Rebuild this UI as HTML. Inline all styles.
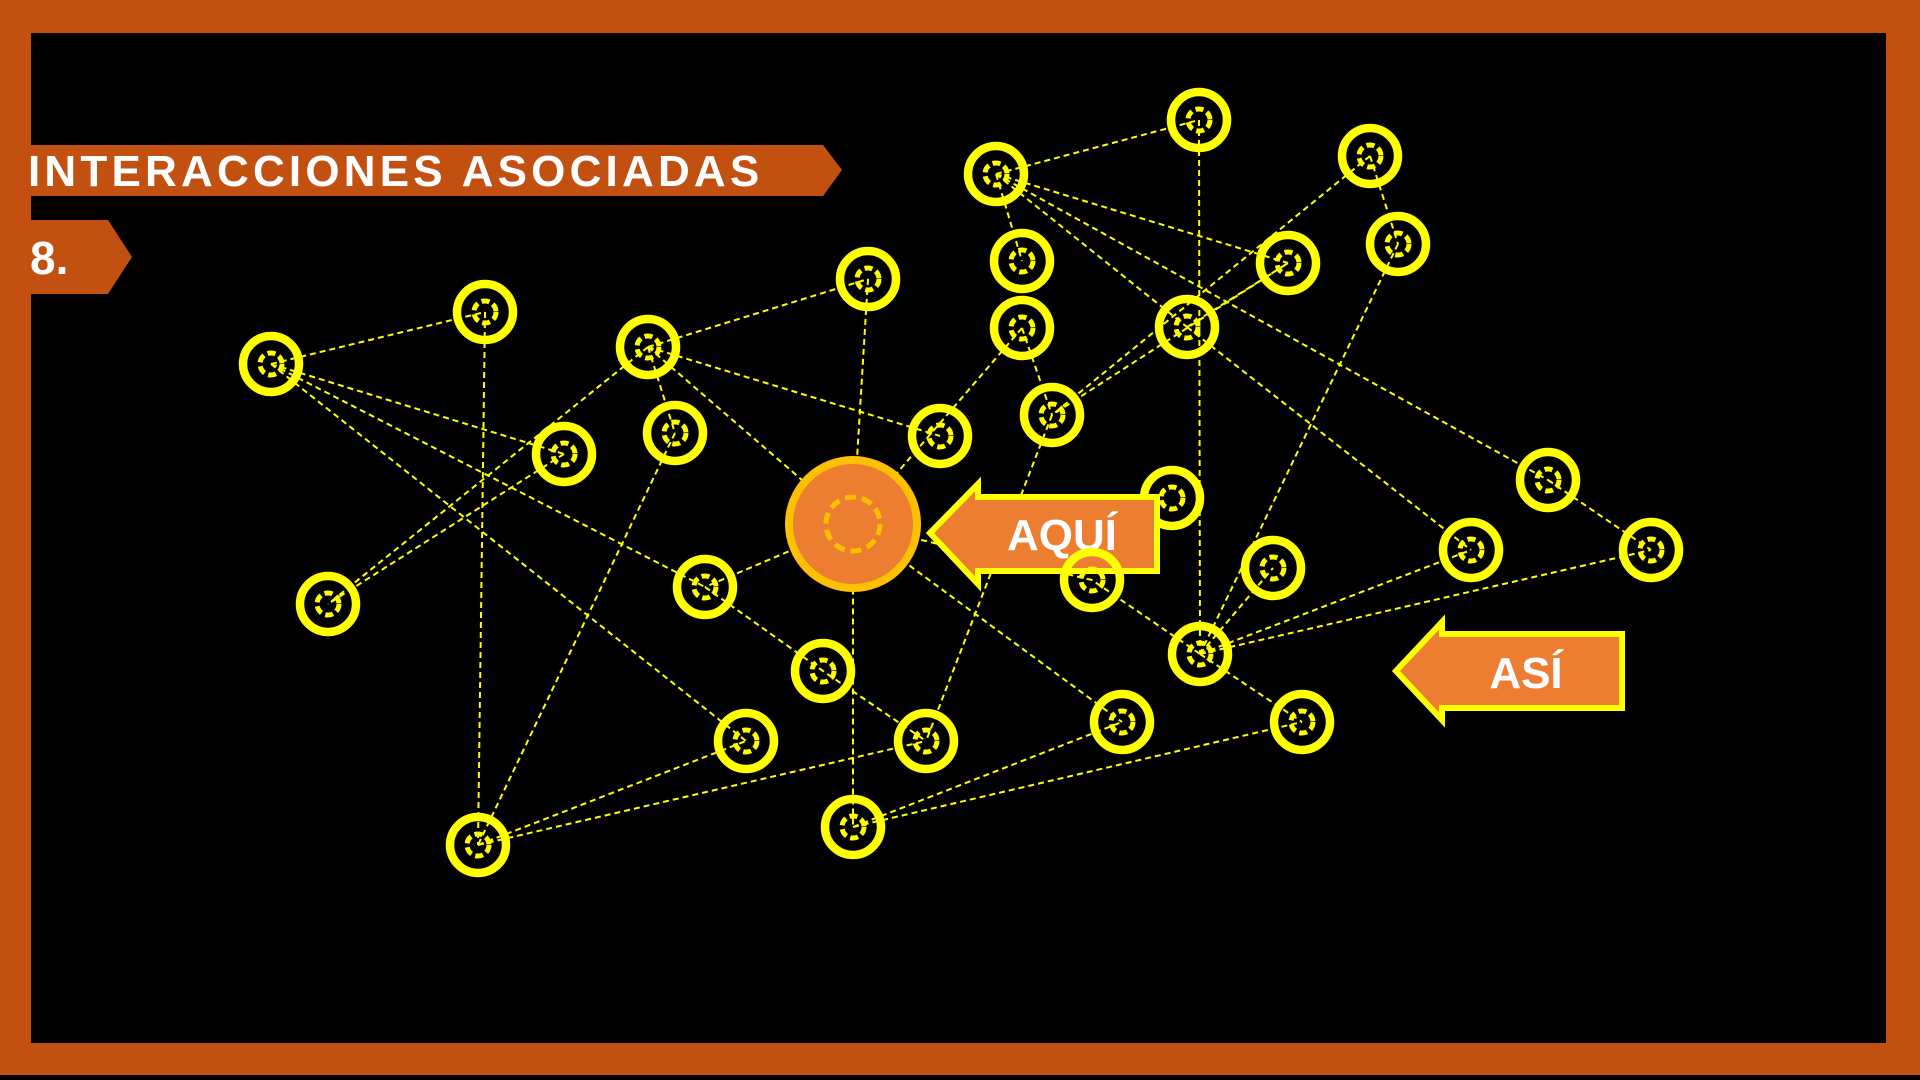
<!DOCTYPE html>
<html><head><meta charset="utf-8"><style>
html,body{margin:0;padding:0;background:#000;width:1920px;height:1080px;overflow:hidden}
svg{display:block}
text{font-family:"Liberation Sans",sans-serif;font-weight:bold;fill:#fff}
</style></head><body>
<svg width="1920" height="1080" viewBox="0 0 1920 1080" xmlns="http://www.w3.org/2000/svg">
<rect x="0" y="0" width="1920" height="1080" fill="#000"/>
<rect x="0" y="0" width="1920" height="1075" fill="#c25011"/>
<rect x="31" y="33" width="1855" height="1010" fill="#000"/>
<polygon points="31,145 823,145 842,170 823,196 31,196" fill="#c25011"/>
<text x="28" y="186" font-size="44" letter-spacing="4.2">INTERACCIONES ASOCIADAS</text>
<polygon points="31,220 108,220 132,257 108,294 31,294" fill="#c25011"/>
<text x="30" y="274" font-size="46">8.</text>
<g stroke="#ffff00" stroke-width="2" stroke-dasharray="6,4" fill="none">
<path d="M271,364L485,312M271,364L564,454M271,364L705,587M271,364L746,741M485,312L478,845
M648,347L868,279M648,347L675,433M648,347L940,436M648,347L853,524M648,347L328,604M564,454L328,604
M868,279L853,524L853,827M996,174L1199,120M996,174L1288,263M996,174L1187,327M996,174L1548,480
M1199,120L1200,654M1370,156L1052,415M1370,156L1398,244M1398,244L1200,654M1288,263L1052,415
M1022,328L853,524M1022,328L1052,415M1052,415L926,741M1187,327L1471,550M853,524L1122,722
M853,524L705,587M853,524L1092,580L1200,654M705,587L823,671L926,741M675,433L478,845M478,845L746,741
M478,845L926,741M853,827L1122,722M853,827L1302,722M1200,654L1471,550M1200,654L1651,550
M1200,654L1302,722M1200,654L1273,568M1548,480L1651,550M996,174L1022,261M1187,327L1288,263"/>
</g>
<g fill="none">
<g stroke="#ffff00" stroke-width="8.5">
<circle cx="271" cy="364" r="28"/><circle cx="485" cy="312" r="28"/><circle cx="648" cy="347" r="28"/>
<circle cx="868" cy="279" r="28"/><circle cx="996" cy="174" r="28"/><circle cx="1199" cy="120" r="28"/>
<circle cx="1370" cy="156" r="28"/><circle cx="1398" cy="244" r="28"/><circle cx="1288" cy="263" r="28"/>
<circle cx="1022" cy="261" r="28"/><circle cx="1022" cy="328" r="28"/><circle cx="1187" cy="327" r="28"/>
<circle cx="1052" cy="415" r="28"/><circle cx="940" cy="436" r="28"/><circle cx="675" cy="433" r="28"/>
<circle cx="564" cy="454" r="28"/><circle cx="328" cy="604" r="28"/><circle cx="705" cy="587" r="28"/>
<circle cx="823" cy="671" r="28"/><circle cx="746" cy="741" r="28"/><circle cx="926" cy="741" r="28"/>
<circle cx="853" cy="827" r="28"/><circle cx="478" cy="845" r="28"/><circle cx="1172" cy="498" r="28"/>
<circle cx="1273" cy="568" r="28"/><circle cx="1200" cy="654" r="28"/><circle cx="1122" cy="722" r="28"/>
<circle cx="1302" cy="722" r="28"/><circle cx="1471" cy="550" r="28"/><circle cx="1548" cy="480" r="28"/>
<circle cx="1651" cy="550" r="28"/>
</g>
<g stroke="#ffff00" stroke-width="5" stroke-dasharray="8,4">
<circle cx="271" cy="364" r="11"/><circle cx="485" cy="312" r="11"/><circle cx="648" cy="347" r="11"/>
<circle cx="868" cy="279" r="11"/><circle cx="996" cy="174" r="11"/><circle cx="1199" cy="120" r="11"/>
<circle cx="1370" cy="156" r="11"/><circle cx="1398" cy="244" r="11"/><circle cx="1288" cy="263" r="11"/>
<circle cx="1022" cy="261" r="11"/><circle cx="1022" cy="328" r="11"/><circle cx="1187" cy="327" r="11"/>
<circle cx="1052" cy="415" r="11"/><circle cx="940" cy="436" r="11"/><circle cx="675" cy="433" r="11"/>
<circle cx="564" cy="454" r="11"/><circle cx="328" cy="604" r="11"/><circle cx="705" cy="587" r="11"/>
<circle cx="823" cy="671" r="11"/><circle cx="746" cy="741" r="11"/><circle cx="926" cy="741" r="11"/>
<circle cx="853" cy="827" r="11"/><circle cx="478" cy="845" r="11"/><circle cx="1172" cy="498" r="11"/>
<circle cx="1273" cy="568" r="11"/><circle cx="1200" cy="654" r="11"/><circle cx="1122" cy="722" r="11"/>
<circle cx="1302" cy="722" r="11"/><circle cx="1471" cy="550" r="11"/><circle cx="1548" cy="480" r="11"/>
<circle cx="1651" cy="550" r="11"/>
</g></g>
<circle cx="853" cy="524" r="64" fill="#ed7d31" stroke="#ffc000" stroke-width="8"/>
<circle cx="853" cy="524" r="27" fill="none" stroke="#ffc000" stroke-width="5" stroke-dasharray="11,6"/>
<polygon points="930,533 978,484 978,497 1157,497 1157,571 978,571 978,584" fill="#ed7d31" stroke="#ffff00" stroke-width="6"/>
<text x="1062" y="550" font-size="44" text-anchor="middle">AQUÍ</text>
<circle cx="1092" cy="580" r="28" fill="none" stroke="#ffff00" stroke-width="8.5"/>
<circle cx="1092" cy="580" r="11" fill="none" stroke="#ffff00" stroke-width="5" stroke-dasharray="8,4"/>
<polygon points="1396,671 1442,622 1442,634 1622,634 1622,708 1442,708 1442,720" fill="#ed7d31" stroke="#ffff00" stroke-width="6"/>
<text x="1526" y="688" font-size="44" text-anchor="middle">ASÍ</text>
</svg>
</body></html>
